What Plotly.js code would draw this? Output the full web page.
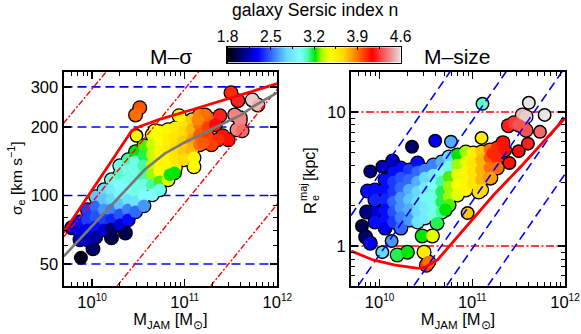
<!DOCTYPE html>
<html><head><meta charset="utf-8">
<script src="https://cdn.plot.ly/plotly-3.0.1.min.js"></script>
<style>html,body{margin:0;padding:0;background:#fff}</style></head>
<body><div id="chart" style="width:581px;height:334px"></div>
<script>
// ---- M-sigma panel: log10(M_JAM), sigma_e [km/s], Sersic n
const sigLogM = [9.78,9.87,9.87,9.87,9.88,9.95,9.95,9.95,9.95,10.01,
 10.04,10.04,10.04,10.04,10.04,10.13,10.13,10.13,10.13,10.13,
 10.21,10.21,10.21,10.21,10.21,10.21,10.21,
 10.30,10.30,10.30,10.30,10.30,10.30,10.30,10.36,
 10.39,10.39,10.39,10.39,10.39,10.39,10.39,
 10.47,10.47,10.47,10.47,10.47,10.47,10.47,
 10.56,10.56,10.56,10.56,10.56,10.56,10.56,
 10.65,10.65,10.65,10.65,10.65,10.65,10.65,
 10.73,10.73,10.73,10.73,10.73,10.73,10.73,
 10.82,10.82,10.82,10.82,10.82,10.82,
 10.90,10.90,10.90,10.90,10.90,
 10.99,10.99,10.99,10.99,10.99,
 11.08,11.08,11.08,11.08,
 11.16,11.16,11.16,11.16,
 11.25,11.25,11.25,
 10.515,10.47,10.94,11.50,11.575,11.73,11.79,11.54,11.60,11.60,11.565,11.62,
 11.38,11.33,11.41,11.47,11.36,11.29,11.20,11.22,11.14,11.10,11.10,10.89,10.84,10.48,10.68];
const sigSigma = [72.1,76.6,69.2,63.9,53.2,86.5,78.2,70.7,63.9,58.3,
 98.7,89.2,80.6,72.8,65.8,105.9,95.7,86.5,78.2,70.7,
 117.2,105.9,95.7,86.5,78.2,71.4,65.2,
 135,123.3,111.4,100.7,91,82.3,74.3,68.5,
 143.5,129.7,117.2,105.9,95.7,86.5,78.2,
 155.6,140.6,127.1,114.9,103.8,93.8,84.8,
 165.4,149.5,135,122,111.4,99.7,90.1,
 184.8,167.1,151,136.4,123.3,111.4,100.7,
 190.5,172.2,155.6,140.6,127.1,114.9,105.9,
 194.5,175.7,158.8,143.5,129.7,117.2,
 198.4,179.3,162,146.5,132.4,
 211,190.5,172.2,155.6,143.5,
 215,194.5,175.7,158.8,
 226,204.6,184.8,167.1,
 219.6,198.4,179.3,
 243,226,224,283,261,263,250,226,219.6,213,194.5,192.5,
 224,204.6,183,175.7,175.7,167,170,226,215,146.5,133.7,125.8,123.3,183,192.5];
const sigN = [2.2,2.3,2.2,2.15,1.85,2.4,2.4,2.25,2.15,2.0,
 2.7,2.5,2.45,2.3,2.1,2.75,2.7,2.6,2.4,2.2,
 3.0,2.85,2.75,2.55,2.35,2.0,1.95,
 3.0,3.05,2.95,2.9,2.7,2.45,2.2,1.95,
 3.1,3.0,3.0,2.95,2.8,2.55,2.3,
 3.2,3.0,3.0,3.0,3.0,2.8,2.5,
 3.25,3.15,3.1,3.1,3.0,2.95,2.6,
 3.4,3.35,3.35,3.35,3.3,3.1,2.95,
 3.5,3.45,3.5,3.5,3.45,3.25,3.0,
 3.5,3.55,3.55,3.5,3.5,3.4,
 3.55,3.6,3.65,3.6,3.55,
 3.6,3.65,3.7,3.7,3.65,
 3.7,3.75,3.8,3.75,
 3.85,3.9,3.95,3.9,
 3.95,4.0,4.0,
 3.95,3.9,3.5,4.05,4.2,4.55,4.5,4.4,4.4,4.4,4.4,4.35,
 4.2,4.15,4.1,4.1,4.05,4.0,3.95,3.9,3.85,3.5,3.45,3.2,3.2,3.5,3.45];

// ---- M-size panel: log10(M_JAM), R_e^maj [kpc], Sersic n
const sizeLogM = [9.95,9.95,9.95,9.95,
 10.06,10.06,10.06,10.06,10.06,10.06,
 10.15,10.15,10.15,10.15,10.15,10.15,
 10.23,10.23,10.23,10.23,10.23,10.23,10.23,
 10.32,10.32,10.32,10.32,10.32,10.32,
 10.41,10.41,10.41,10.41,10.41,10.41,10.41,
 10.49,10.49,10.49,10.49,10.49,10.49,
 10.58,10.58,10.58,10.58,10.58,10.58,
 10.67,10.67,10.67,10.67,10.67,10.67,
 10.75,10.75,10.75,10.75,10.75,10.75,
 10.84,10.84,10.84,10.84,10.84,
 10.93,10.93,10.93,10.93,10.93,
 11.01,11.01,11.01,11.01,
 11.10,11.10,11.10,11.10,11.10,
 11.19,11.19,11.19,11.19,
 11.27,11.27,11.27,
 11.11,11.61,11.78,11.10,11.73,11.54,11.58,11.55,11.39,11.45,11.50,11.58,11.60,11.50,11.40,11.33,11.35,11.22,
 10.35,10.60,10.77,10.14,10.03,9.90,9.87,9.86,9.81,9.85,9.90,10.13,10.03,10.19,10.30,10.48,10.505,10.53,10.46,10.57,
 10.95,11.07,11.20,10.62,10.71];
const sizeRe = [2.62,2.20,1.79,1.51,
 3.11,2.62,2.20,1.86,1.56,1.36,
 3.57,3.00,2.53,2.13,1.79,1.51,
 3.82,3.22,2.71,2.28,1.92,1.62,1.36,
 3.69,3.11,2.62,2.20,1.86,1.56,
 4.16,3.57,3.00,2.53,2.13,1.79,1.51,
 3.69,3.22,2.71,2.28,1.92,1.62,
 4.02,3.39,2.85,2.40,2.02,1.70,
 4.23,3.57,3.00,2.53,2.13,1.79,
 4.62,3.89,3.27,2.76,2.32,2.02,
 4.78,4.02,3.39,2.85,2.40,
 5.03,4.23,3.57,3.00,2.62,
 4.94,4.16,3.51,2.95,
 5.03,4.38,3.69,3.11,2.62,
 5.21,4.54,3.82,3.22,
 5.39,4.54,3.82,
 11.5,11.7,9.5,6.4,7.1,9.5,9.2,7.7,7.9,8.3,8.0,7.3,5.8,5.1,4.16,5.9,5.2,4.9,
 5.5,6.1,6.0,4.3,3.9,3.6,2.57,1.79,1.41,1.17,1.05,1.09,0.90,0.857,0.90,0.90,0.72,0.76,1.19,1.19,
 1.76,2.53,3.22,1.48,1.86];
const sizeN = [2.3,2.35,2.2,2.3,
 2.3,2.3,2.35,2.3,2.3,2.25,
 2.3,2.4,2.4,2.5,2.45,2.4,
 2.3,2.45,2.5,2.6,2.6,2.55,2.5,
 2.4,2.5,2.65,2.7,2.65,2.6,
 2.3,2.5,2.65,2.75,2.8,2.75,2.8,
 2.55,2.75,2.85,2.9,2.85,2.85,
 2.55,2.85,2.95,3.0,3.0,3.0,
 2.65,2.95,3.1,3.15,3.15,3.1,
 2.75,3.0,3.25,3.3,3.3,3.25,
 3.2,3.3,3.4,3.45,3.4,
 3.3,3.4,3.5,3.5,3.5,
 3.55,3.6,3.6,3.6,
 3.7,3.75,3.75,3.75,3.65,
 3.9,3.95,3.9,3.85,
 4.05,4.05,3.9,
 3.05,4.6,4.6,3.55,4.35,4.5,4.55,4.35,4.2,4.25,4.3,4.3,4.2,4.15,4.1,4.1,4.1,4.05,
 2.0,2.25,2.65,2.15,2.15,2.05,2.3,2.05,1.95,2.0,2.25,2.6,2.75,3.15,3.2,3.55,4.0,3.9,3.2,3.4,
 3.7,3.65,3.8,3.15,3.2];

// ---- reference curves
const zoaSigLogM = [9.694,10.43,10.515,10.625,10.73,11.06,11.51,12];
const zoaSigma   = [68.8,193,201,209,216,237,270,310];
const fitSigLogM = [9.694,10.57,10.786,11.0,11.327,11.6,11.76,12];
const fitSigma   = [54,130,153,171,199,225,249,283];
const zoaSizeLogM = [9.694,9.93,10.17,10.42,10.495,10.624,11.23,11.54,12];
const zoaSizeRe   = [0.918,0.787,0.72,0.682,0.697,0.787,2.40,4.02,9.0];
const sigmaLevels = [50,100,200,300];
const sizeLevels  = [1,10];
const reGuides = [
 [[9.692,10.154],[207.5,350]],
 [[9.692,11.154],[65.6,350]],
 [[10.27,12],[40,293]],
 [[11.28,12],[40,91.7]]];
const sigmaGuides = [
 [[9.692,10.76],[1.69,19.95]],
 [[9.77,11.365],[0.507,19.95]],
 [[10.37,11.968],[0.506,19.95]],
 [[10.724,12],[0.506,9.55]],
 [[11.168,12],[0.506,3.44]]];
const colorTicks = [1.8,2.5,3.2,3.9,4.6];
const colorMinor = [2.15,2.85,3.55,4.25];
const colorRamp = [1.8,1.9,2.0,2.1,2.2,2.3,2.4,2.5,2.6,2.7,2.8,2.9,3.0,3.1,3.2,3.3,3.4,3.5,3.6,3.7,3.8,3.9,4.0,4.1,4.2,4.3,4.4,4.5,4.6];
const massTicks = [10,11,12];

// sauron colormap
const sauron = [[0,'rgb(0,0,0)'],[0.17,'rgb(0,0,255)'],[0.336,'rgb(102,217,255)'],[0.414,'rgb(128,255,255)'],
 [0.46,'rgb(77,255,179)'],[0.5,'rgb(0,230,0)'],[0.54,'rgb(179,255,0)'],[0.59,'rgb(255,255,0)'],
 [0.668,'rgb(255,217,0)'],[0.834,'rgb(255,0,0)'],[1,'rgb(230,230,230)']];

const W=581,H=334, FONT='"Liberation Sans", Arial, sans-serif';
const un = a => a.map(v => Math.pow(10,v));
const line = (x,y,xa,ya,color,width,dash) => ({type:'scatter',mode:'lines',x:x,y:y,xaxis:xa,yaxis:ya,
  line:{color:color,width:width,dash:dash||'solid'},hoverinfo:'skip',showlegend:false});
const BLUE='rgb(0,0,255)', RED='rgb(255,0,0)', DD='9px,5px', DDOT='6px,2px,2px,2px';
const MX=[Math.pow(10,9.692),1e12];

const data=[];
sigmaLevels.forEach(v=>data.push(line(MX,[v,v],'x','y',BLUE,1.6,DD)));
sizeLevels.forEach(v=>data.push(line(MX,[v,v],'x2','y2',RED,1.4,'8px,2.5px,2px,2.5px')));
// points touching a neighbour merge into one outlined blob, so they get a fuller fill
function pts(lm,yv,n,xa,ya,pxPerDexY){
  const crowded=lm.map((v,i)=>lm.some((u,j)=>j!==i &&
    Math.hypot((u-v)*92.5,Math.log10(yv[j]/yv[i])*pxPerDexY)<11));
  data.push({type:'scatter',mode:'markers',x:un(lm),y:yv,xaxis:xa,yaxis:ya,showlegend:false,hoverinfo:'skip',
    marker:{size:crowded.map(c=>c?15:14),opacity:1,color:'#000',line:{width:0}}});
  data.push({type:'scatter',mode:'markers',x:un(lm),y:yv,xaxis:xa,yaxis:ya,showlegend:false,hoverinfo:'skip',
    marker:{size:crowded.map(c=>c?12.5:11),opacity:1,color:n,colorscale:sauron,cmin:1.8,cmax:4.6,line:{width:0},showscale:false}});
}
pts(sigLogM,sigSigma,sigN,'x','y',227.5);
pts(sizeLogM,sizeRe,sizeN,'x2','y2',134);
reGuides.forEach(g=>data.push(line(un(g[0]),g[1],'x','y',RED,1.4,DDOT)));
sigmaGuides.forEach(g=>data.push(line(un(g[0]),g[1],'x2','y2',BLUE,1.6,DD)));
data.push(line(un(fitSigLogM),fitSigma,'x','y','rgb(120,120,120)',2.6));
data.push(line(un(zoaSigLogM),zoaSigma,'x','y',RED,2.8));
data.push(line(un(zoaSizeLogM),zoaSizeRe,'x2','y2',RED,2.8));
// colour bar
data.push({type:'heatmap',x:colorRamp,y:[0,1],z:[colorRamp,colorRamp],xaxis:'x3',yaxis:'y3',zsmooth:'best',
  colorscale:sauron,zmin:1.8,zmax:4.6,showscale:false,hoverinfo:'skip'});

const xax=(dom,anchor)=>({type:'log',domain:dom,anchor:anchor,range:[9.692,12],
  tickmode:'array',tickvals:un(massTicks),
  ticktext:massTicks.map(v=>'10<sup><span style="font-size:10px">'+v+'</span></sup>'),
  showgrid:false,zeroline:false,showline:true,linewidth:2,linecolor:'#000',mirror:'ticks',
  ticks:'inside',ticklen:7,tickwidth:1.5,tickcolor:'#000',tickfont:{family:FONT,size:16.5,color:'#000'},
  minor:{ticks:'inside',ticklen:4,tickwidth:1,tickcolor:'#000',dtick:'D1',showgrid:false},
  title:{text:'M<sub>JAM</sub> [M<sub>\u2299</sub>]',font:{family:FONT,size:16.5,color:'#000'},standoff:2}});
const yax=(dom,anchor,range,major,minor)=>({type:'log',domain:dom,anchor:anchor,range:range,
  showgrid:false,zeroline:false,showline:true,linewidth:2,linecolor:'#000',mirror:'ticks',
  tickmode:'array',tickvals:major,ticktext:major.map(String),
  ticks:'inside',ticklen:7,tickwidth:1.5,tickcolor:'#000',tickfont:{family:FONT,size:16.5,color:'#000'},
  minor:{ticks:'inside',ticklen:4,tickwidth:1,tickcolor:'#000',tickmode:'array',tickvals:minor,showgrid:false}});
const ann=(text,px,py,size,angle)=>({text:text,xref:'paper',yref:'paper',x:px/W,y:1-py/H,showarrow:false,
  xanchor:'center',yanchor:'middle',textangle:angle||0,font:{family:FONT,size:size,color:'#000'}});

const layout={width:W,height:H,margin:{l:0,r:0,t:0,b:0},paper_bgcolor:'#fff',plot_bgcolor:'rgba(0,0,0,0)',showlegend:false,
  xaxis:xax([63.5/W,277.3/W],'y'),
  yaxis:yax([1-285.7/H,1-71.7/H],'x',[1.6036,2.544],[50,100,200,300],[40,60,70,80,90]),
  xaxis2:xax([351/W,565/W],'y2'),
  yaxis2:yax([1-285.7/H,1-71.7/H],'x2',[-0.296,1.30],[1,10],[0.5,0.6,0.7,0.8,0.9,2,3,4,5,6,7,8,9,20]),
  xaxis3:{domain:[227.7/W,400.7/W],anchor:'y3',side:'top',range:[1.8,4.6],tickmode:'array',tickvals:colorTicks,
    ticktext:colorTicks.map(v=>v.toFixed(1)),showgrid:false,zeroline:false,showline:true,linewidth:1.5,linecolor:'#000',mirror:true,
    ticks:'inside',ticklen:3,tickwidth:1,tickcolor:'#000',ticklabelstandoff:-2,tickfont:{family:FONT,size:15.6,color:'#000'},
    minor:{ticks:'inside',ticklen:2,tickwidth:1,tickcolor:'#000',tickmode:'array',tickvals:colorMinor,showgrid:false}},
  yaxis3:{domain:[1-62.7/H,1-47.3/H],anchor:'x3',range:[0,1],showticklabels:false,ticks:'',showgrid:false,zeroline:false,
    showline:true,linewidth:1.5,linecolor:'#000',mirror:true},
  annotations:[
    ann('galaxy Sersic index n',314.5,10,17.6),
    ann('M\u2013\u03c3',171,56,21),
    ann('M\u2013size',457,56,21),
    ann('\u03c3<sub>e</sub> [km s<sup>\u22121</sup>]',16,178,15.5,-90),
    ann('[kpc]',309,164,16,-90),
    ann('R',310,208,16.5,-90),
    ann('e',315,198,11,-90),
    ann('maj',303,192,11,-90)
  ]};
Plotly.newPlot('chart',data,layout,{displayModeBar:false,staticPlot:true});
</script></body></html>
